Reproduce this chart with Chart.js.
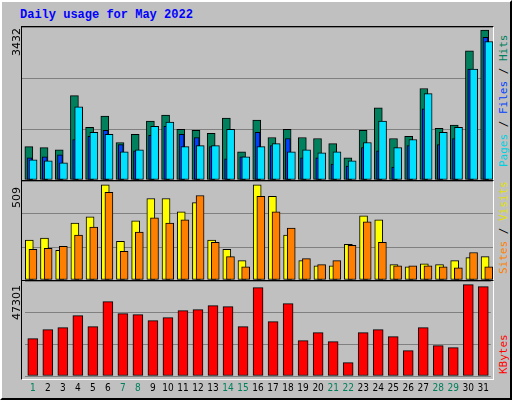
<!DOCTYPE html>
<html><head><meta charset="utf-8">
<script src="https://cdn.jsdelivr.net/npm/chart.js@4"></script>
<style>
body{margin:0;background:#c0c0c0}
#wrap{position:relative;width:512px;height:400px;background:#c0c0c0;box-sizing:border-box;border-top:2px solid #fff;border-left:2px solid #fff;border-right:2px solid #000;border-bottom:2px solid #000;overflow:hidden}
.panel{position:absolute;box-sizing:border-box;border:1px solid #000;border-right-color:#fff;border-bottom-color:#fff;left:19px;width:473px}
canvas{position:absolute}
.rot{position:absolute;transform-origin:left top;transform:rotate(-90deg);white-space:nowrap;font-family:"DejaVu Sans Mono",monospace;font-size:11px}
#title{position:absolute;left:18px;top:6px;font:bold 12px "Liberation Mono","DejaVu Sans Mono",monospace;color:#0000ff}
</style></head><body>
<div id="wrap">
<div id="title">Daily usage for May 2022</div>
<div class="panel" style="top:24px;height:155px"></div>
<div class="panel" style="top:178px;height:101px"></div>
<div class="panel" style="top:278px;height:100px"></div>
<canvas id="c1" style="left:20px;top:25px"></canvas>
<canvas id="c2" style="left:20px;top:179px"></canvas>
<canvas id="c3" style="left:22px;top:279px"></canvas>
<div class="rot" style="left:8px;top:54px;font-family:'DejaVu Sans';">3432</div>
<div class="rot" style="left:8px;top:206px;font-family:'DejaVu Sans';">509</div>
<div class="rot" style="left:8px;top:318px;font-family:'DejaVu Sans';">47301</div>
<div class="rot" style="left:495px;top:165px"><span style="color:#00d0e0">Pages</span> / <span style="color:#0040ff">Files</span> / <span style="color:#00805c">Hits</span></div>
<div class="rot" style="left:495px;top:272px"><span style="color:#ff8000">Sites</span> / <span style="color:#e0e000">Visits</span></div>
<div class="rot" style="left:495px;top:372px"><span style="color:#ff0000">KBytes</span></div>
</div>
<script>
const days=[1,2,3,4,5,6,7,8,9,10,11,12,13,14,15,16,17,18,19,20,21,22,23,24,25,26,27,28,29,30,31];
const weekend=[1,7,8,14,15,21,22,28,29];
const hits=[763,740,693,1931,1207,1464,857,1043,1347,1487,1160,1137,1067,1417,647,1370,973,1160,973,950,833,507,1137,1650,950,997,2094,1184,1254,2958,3432];
const files=[507,530,577,927,997,1137,810,670,1020,1230,1043,973,763,483,530,1090,787,950,507,507,367,320,740,670,297,787,1627,810,950,2538,3262];
const pages=[460,437,390,1674,1090,1043,647,693,1230,1324,763,787,787,1160,530,763,833,647,693,623,647,437,857,1347,740,927,1978,1090,1207,2538,3169];
const visits=[213,224,158,305,338,509,207,316,436,436,365,414,213,164,104,509,447,240,104,76,76,191,343,322,82,71,87,82,104,120,125];
const sites=[164,169,180,240,283,469,153,256,332,305,322,452,202,125,71,447,365,278,114,82,104,185,311,202,76,76,76,71,65,147,71];
const kbytes=[19350,24010,25050,31260,25570,38500,32290,31780,28670,30220,33850,34360,36430,35920,25570,45750,28150,37470,18320,22460,17800,6930,22460,24010,20390,13140,25050,15730,14700,47301,46270];
const maxHits=3432, maxVisits=509, maxKB=47301;

function pts(arr){return arr.map((v,i)=>({x:days[i],y:v}));}
function xAxis(id,shift){return {type:'linear',display:false,min:0.5+shift,max:31.5+shift,offset:false};}
function yAxis(max){return {min:0,max:max,display:true,border:{display:false},ticks:{display:false,stepSize:max/3},grid:{color:'#808080',drawTicks:false,lineWidth:1}};}
function ds(label,arr,color,axis,w,order){return {label,data:pts(arr),backgroundColor:color,borderColor:'#000',borderWidth:1,barThickness:w,xAxisID:axis,order,grouped:false,borderSkipped:false};}
const base={responsive:false,animation:false,devicePixelRatio:1,layout:{padding:0},plugins:{legend:{display:false},tooltip:{enabled:false}}};
function mk(id,w,h,datasets,scales){const c=document.getElementById(id);c.width=w;c.height=h;
 new Chart(c,{type:'bar',data:{datasets},options:Object.assign({},base,{scales})});}
mk('c1',471,153,[
 ds('Hits',hits,'#00805c','xh',8,2),ds('Files',files,'#0040ff','xf',5,1),ds('Pages',pages,'#00e0ff','xp',8,0)],
 {xh:xAxis('xh',0.05),xf:xAxis('xf',0.0),xp:xAxis('xp',-0.23),y:yAxis(maxHits*1.02)});
mk('c2',471,99,[
 ds('Visits',visits,'#ffff00','xv',8,1),ds('Sites',sites,'#ff8000','xs',8,0)],
 {xv:xAxis('xv',0.02),xs:xAxis('xs',-0.22),y:yAxis(maxVisits*1.04)});
const c3=document.getElementById('c3');c3.width=471;c3.height=119;
new Chart(c3,{type:'bar',data:{labels:days.map(String),datasets:[{label:'KBytes',data:kbytes,backgroundColor:'#ff0000',borderColor:'#000',borderWidth:1,barThickness:10,borderSkipped:false}]},
 options:Object.assign({},base,{scales:{
  x:{grid:{display:false,drawTicks:false},border:{display:false},ticks:{autoSkip:false,maxRotation:0,padding:6,font:{family:'DejaVu Sans Condensed',size:10},color:ctx=>weekend.includes(days[ctx.index])?'#00805c':'#000'}},
  y:yAxis(maxKB*1.04)}})});
</script>
</body></html>
